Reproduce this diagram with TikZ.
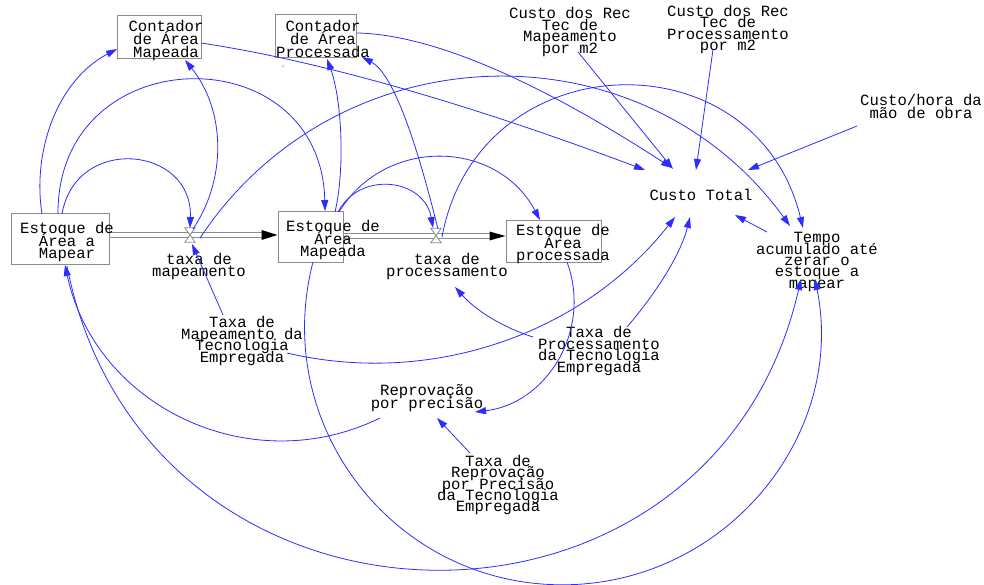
\documentclass[tikz,border=0pt]{standalone}
\usepackage{fontspec}
\newfontfamily\vf{Liberation Mono}
\usetikzlibrary{arrows.meta,calc}
\definecolor{vblue}{RGB}{45,45,255}
\definecolor{boxgray}{RGB}{140,140,140}
\definecolor{dotc}{RGB}{250,200,175}
\newcommand\vsz[1]{\vf\fontsize{15.6pt}{#1}\selectfont\lineskiplimit-50pt\relax\lineskip0pt\relax}
\tikzset{
  lbl/.style={font={\vsz{#1}}, align=center, inner sep=0pt, text=black},
  lbl/.default=11.4pt,
  sbox/.style={draw=boxgray, line width=1pt, inner sep=0pt, fill=white},
  valve/.style={inner sep=0pt, minimum width=10pt, minimum height=14pt},
  link/.style={draw=vblue, line width=0.8pt, -{Triangle[length=11pt,width=7pt]}},
  pipe/.style={draw=boxgray, double=white, double distance=3.4pt, line width=0.9pt}
}
\begin{document}
\lineskiplimit-50pt\relax
\lineskip0pt\relax
\begin{tikzpicture}[x=1pt,y=-1pt]
\useasboundingbox (0,0) rectangle (984,585);
\fill[white] (0,0) rectangle (984,585);

% stocks (boxes)
\node[sbox, minimum width=84pt, minimum height=43pt] (cam) at (159,37.5) {};
\node[sbox, minimum width=81pt, minimum height=43pt] (cap) at (315.5,36.5) {};
\node[sbox, minimum width=98pt, minimum height=50pt] (eam) at (60,239) {};
\node[sbox, minimum width=65pt, minimum height=50pt] (emp) at (310.5,237) {};
\node[sbox, minimum width=95pt, minimum height=41pt] (epr) at (553.5,241.5) {};

% pipes
\draw[pipe] ($(eam.east)+(0,-4)$) -- ($(emp.west)+(-15,-2)$);
\fill[black] ($(emp.west)+(-16,-7)$) -- ($(emp.west)+(0,-2)$) -- ($(emp.west)+(-16,3)$) -- cycle;
\draw[pipe] ($(emp.east)+(0,-1)$) -- ($(epr.west)+(-15,-5.5)$);
\fill[black] ($(epr.west)+(-16,-10)$) -- ($(epr.west)+(0,-5.5)$) -- ($(epr.west)+(-16,-1)$) -- cycle;

% valves
\node[valve] (vm) at (190,235) {};
\node[valve] (vp) at (436,235.5) {};
\filldraw[fill=white, draw=boxgray, line width=0.8pt] (vm.north west) -- (vm.north east) -- (vm.south west) -- (vm.south east) -- cycle;
\filldraw[fill=white, draw=boxgray, line width=0.8pt] (vp.north west) -- (vp.north east) -- (vp.south west) -- (vp.south east) -- cycle;

% texts
\node[lbl=13pt] (camt) at (166,40) {Contador\\de Área\\Mapeada};
\node[lbl=13pt] (capt) at (323,38.5) {Contador\\de Área\\Processada};
\node[lbl=12.5pt] (eamt) at (67,242) {Estoque de\\Área a\\Mapear};
\node[lbl=12.5pt] (empt) at (333,240) {Estoque de\\Área\\Mapeada};
\node[lbl=12.5pt] (eprt) at (563,244) {Estoque de\\Área\\processada};
\node[lbl] (crm) at (570,32) {Custo dos Rec\\Tec de\\Mapeamento\\por m2};
\node[lbl] (crp) at (728,29.5) {Custo dos Rec\\Tec de\\Processamento\\por m2};
\node[lbl=13pt] (chm) at (921,106) {Custo/hora da\\mão de obra};
\node[lbl] (ctot) at (701,195) {Custo Total};
\node[lbl] (tmp) at (817,262) {Tempo\\acumulado até\\zerar o\\estoque a\\mapear};
\node[lbl] (tmt) at (242,341) {Taxa de\\Mapeamento da\\Tecnologia\\Empregada};
\node[lbl] (tpt) at (599,351) {Taxa de\\Processamento\\da Tecnologia\\Empregada};
\node[lbl=13pt] (rep) at (427,398.5) {Reprovação\\por precisão};
\node[lbl] (trp) at (498,485) {Taxa de\\Reprovação\\por Precisão\\da Tecnologia\\Empregada};
\node[lbl=12pt] (txm) at (199,266) {taxa de\\mapeamento};
\node[lbl=12pt] (txp) at (447,266.5) {taxa de\\processamento};

\fill[dotc] (283,66) circle (1.6pt);

% connectors
\draw[link] ($(eam)+(-18,-25)$) .. controls (32,150) and (58,80) .. ($(cam)+(-42,11.5)$);
\draw[link] ($(eam)+(2,-25)$) .. controls (76,134) and (193,146) .. ($(vm)+(0,-7)$);
\draw[link] ($(eam)+(-2,-25)$) .. controls (57,38) and (321,34) .. ($(emp)+(14.5,-26)$);
\draw[link] ($(vm)+(3,-6)$) .. controls (227.8,177.4) and (224.6,109.1) .. ($(cam)+(26,22.5)$);
\draw[link] ($(vm)+(10,3)$) .. controls (338.6,29.2) and (642.3,22.4) .. ($(tmp)+(-27,-36)$);
\draw[link] ($(vp)+(6,1.5)$) .. controls (478.2,41.4) and (755.8,33.6) .. ($(tmp)+(-14,-34)$);
\draw[link] ($(vp)+(2,-6.5)$) .. controls (427.5,187.4) and (399.8,77.3) .. ($(cap)+(46.5,20.5)$);
\draw[link] ($(emp)+(24.5,-25)$) .. controls (345,170) and (342,100) .. ($(cap)+(11.5,22.5)$);
\draw[link] ($(emp)+(27.5,-25)$) .. controls (360.7,169.4) and (424.6,179.4) .. ($(vp)+(-3,-7.5)$);
\draw[link] ($(emp)+(28.5,-25)$) .. controls (385.4,136.1) and (497.1,139.4) .. ($(epr)+(-13.5,-21.5)$);
\draw[link] ($(cam)+(42,5.5)$) .. controls (318.1,60.6) and (466.1,102.9) .. ($(ctot)+(-56,-25)$);
\draw[link] ($(cap)+(41.5,-3.5)$) .. controls (430.8,34.5) and (535.8,79.5) .. ($(ctot)+(-29,-27)$);
\draw[link] ($(crm)+(8,20)$) -- ($(ctot)+(-28,-26)$);
\draw[link] ($(crp)+(-15,20)$) -- ($(ctot)+(-5,-25)$);
\draw[link] ($(chm)+(-64,20)$) -- ($(ctot)+(47,-25)$);
\draw[link] ($(tmp)+(-50,-30)$) -- ($(ctot)+(34,20)$);
\draw[link] ($(tpt)+(28,-24)$) .. controls (660.5,287.8) and (681.5,251.1) .. ($(ctot)+(-11,22)$);
\draw[link] ($(tmt)+(45,12)$) .. controls (431.7,386.9) and (583.2,333.8) .. ($(ctot)+(-26,22)$);
\draw[link] ($(tmt)+(-19,-26)$) -- ($(vm)+(2,9)$);
\draw[link] ($(tpt)+(-66,-14)$) .. controls (501.7,327) and (475.7,310.3) .. ($(txp)+(8,20.5)$);
\draw[link] ($(epr)+(13.5,20.5)$) .. controls (592.2,330) and (547,403.5) .. ($(rep)+(48,13.5)$);
\draw[link] ($(trp)+(-28,-32)$) -- ($(rep)+(10,19.5)$);
\draw[link] ($(rep)+(-47,19.5)$) .. controls (250.2,481.6) and (95.3,406.3) .. ($(eam)+(5,26)$);
\draw[link] ($(eam)+(7,27)$) .. controls (145,663.3) and (711.3,671.9) .. ($(tmp)+(-16,17)$);
\draw[link] ($(emp)+(2.5,25)$) .. controls (270.5,425.3) and (393.6,584.8) .. (562.3,584.8) .. controls (724.7,584.8) and (846.5,436.3) .. ($(tmp)+(-2,17)$);
\end{tikzpicture}
\end{document}
